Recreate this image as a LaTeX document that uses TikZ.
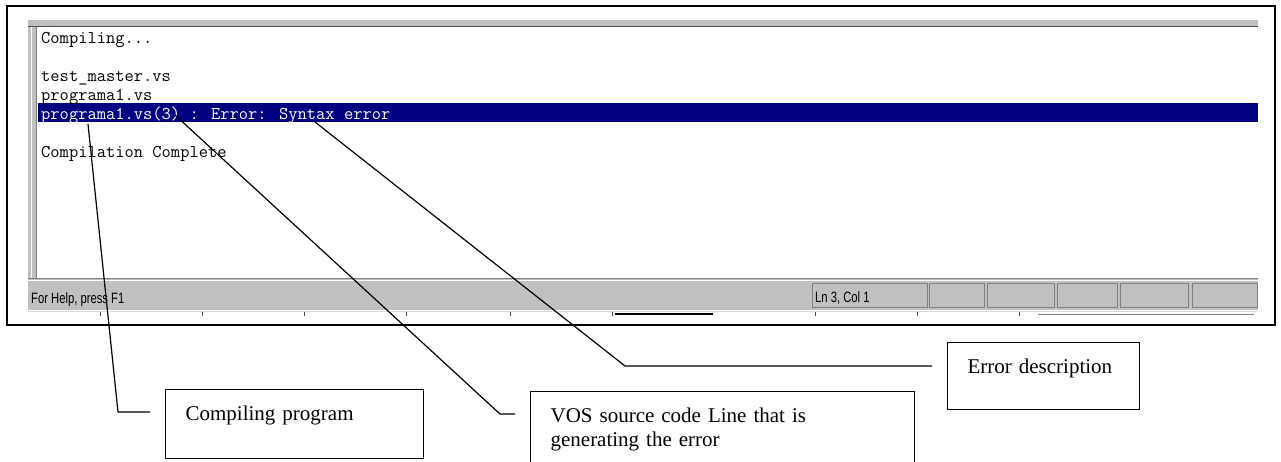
\documentclass[tikz,border=0pt]{standalone}
\usepackage{fontspec}
\usetikzlibrary{calc}
\newfontfamily\calloutfont{Liberation Serif}
\newfontfamily\statusfont[FakeStretch=0.75]{Liberation Sans}
\definecolor{wingray}{RGB}{192,192,192}
\definecolor{winshade}{RGB}{128,128,128}
\definecolor{selblue}{RGB}{0,0,128}
\tikzset{
  outline/.style={line width=1.4pt},
  logline/.style={anchor=base west, inner sep=0pt,
    font=\fontsize{18}{19}\ttfamily\addfontfeatures{FakeBold=0.4}},
  statustext/.style={anchor=base west, inner sep=0pt, font=\fontsize{15}{17}\statusfont},
  panel/.style={fill=wingray, draw=winshade, line width=0.8pt},
  callout/.style={draw, line width=1.2pt, anchor=north west, inner xsep=20pt,
    inner ysep=0pt, text height=31pt, align=left, font=\fontsize{21}{24}\calloutfont},
  leader/.style={line width=1.2pt}
}

\begin{document}
\begin{tikzpicture}[x=1pt, y=-1pt]
  \useasboundingbox (0,0) rectangle (1281,461);

  % frame round the window
  \draw[outline] (7,6) rectangle (1275,325);

  % window: top strip, left gutter, selected line
  \fill[wingray] (28,20) rectangle (1258,27);
  \draw[winshade!60!black, line width=1.2pt] (28,26.4) -- (1258,26.4);
  \fill[wingray] (28,27) rectangle (37,278);
  \draw[white, line width=1pt] (31,27) -- (31,278);
  \draw[winshade, line width=1pt] (36.5,27) -- (36.5,278);
  \fill[selblue] (38,103) rectangle (1258,122);

  % output of the build
  \node[logline] (l1) at (41,43) {Compiling...};
  \node[logline] (l2) at (41,81) {test\_master.vs};
  \node[logline] (l3) at (41,100) {programa1.vs};
  \node[logline, text=white] (l4) at (41,119) {programa1.vs(3) : Error: Syntax error};
  \node[logline] (l5) at (41,157) {Compilation Complete};

  % status bar
  \fill[wingray] (28,278) rectangle (1258,310);
  \draw[winshade, line width=0.8pt] (28,278) -- (1258,278);
  \draw[white, line width=1pt] (28,280) -- (1258,280);
  \node[statustext] (help) at (31,303) {For Help, press F1};
  \foreach \a/\b in {812/927, 929/984, 987/1054, 1057/1117, 1120/1188, 1192/1257}
    \draw[panel] (\a,283) rectangle (\b,307);
  \node[statustext] (pos) at (815,302) {Ln 3, Col 1};

  % edge of the tool bar below
  \draw[white!85!black, line width=1pt] (28,311) -- (1258,311);
  \foreach \x in {100,202,304,406,510,612,815,917,1019}
    \draw[black!70, line width=0.8pt] (\x,312) -- (\x,316);
  \draw[line width=1.2pt] (615,314) -- (713,314);
  \draw[winshade, line width=1pt] (1038,314) -- (1254,314);

  % callouts
  \node[callout, text width=218pt, text depth=38pt] (progBox) at (165,389) {Compiling program};
  \node[callout, text width=344pt, text depth=41pt] (lineBox) at (530,391)
    {VOS source code Line that is\\generating the error};
  \node[callout, text width=152pt, text depth=36pt] (errBox) at (947,342) {Error description};

  \coordinate (progSrc) at (88,124);
  \coordinate (progBend) at (118,412);
  \coordinate (lineSrc) at (175,115);
  \coordinate (lineBend) at (500,414);
  \coordinate (errSrc) at (315,122);
  \coordinate (errBend) at (625,366);

  \draw[leader] (progSrc) -- (progBend) -- ($(progBend -| progBox.west)+(-15,0)$);
  \draw[leader] (lineSrc) -- (lineBend) -- ($(lineBend -| lineBox.west)+(-15,0)$);
  \draw[leader] (errSrc) -- (errBend) -- ($(errBend -| errBox.west)+(-15,0)$);
\end{tikzpicture}
\end{document}
